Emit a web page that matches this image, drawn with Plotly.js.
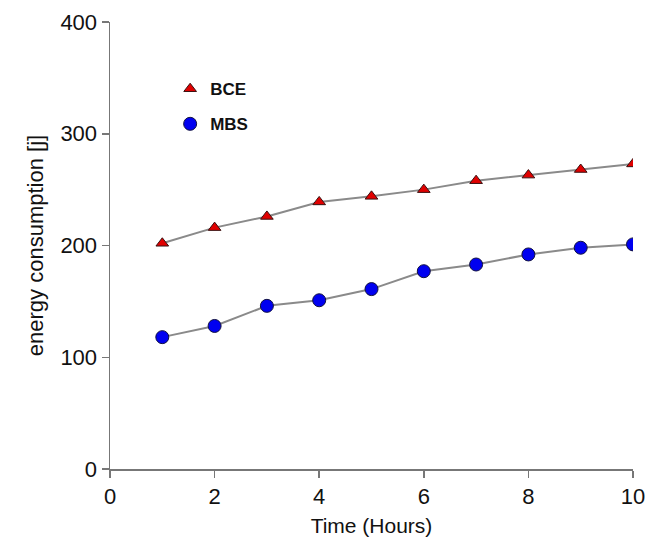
<!DOCTYPE html>
<html><head><meta charset="utf-8">
<script src="https://cdn.plot.ly/plotly-3.0.1.min.js"></script>
<style>html,body{margin:0;padding:0;background:#fff}#c{width:657px;height:545px}</style>
</head><body><div id="c"></div>
<script>
const hours = [1,2,3,4,5,6,7,8,9,10];
const bce = [202,216,226,239,244,250,258,263,268,273];
const mbs = [118,128,146,151,161,177,183,192,198,201];
const xTicks = [0,2,4,6,8,10];
const yTicks = [0,100,200,300,400];

const lineCol = '#8a8a8a';
const bceMarker = {symbol: 'triangle-up', size: 11, color: '#e00000', line: {color: '#3a1010', width: 1}};
const mbsMarker = {symbol: 'circle', size: 13, color: '#0000f0', line: {color: '#101040', width: 1}};
const traces = [
  {x: hours, y: bce, type: 'scatter', mode: 'lines', showlegend: false, line: {color: lineCol, width: 2}},
  {x: hours, y: mbs, type: 'scatter', mode: 'lines', showlegend: false, line: {color: lineCol, width: 2}},
  {x: hours, y: bce, name: 'BCE', type: 'scatter', mode: 'markers', legendgroup: 'a', marker: bceMarker},
  {x: hours, y: mbs, name: 'MBS', type: 'scatter', mode: 'markers', legendgroup: 'b', marker: mbsMarker}
];

const fam = 'Liberation Sans, Arial, sans-serif';
const tickFont = {family: fam, size: 22, color: '#111'};
const layout = {
  width: 657, height: 545,
  margin: {l: 110, r: 24, t: 22, b: 76},
  paper_bgcolor: '#fff', plot_bgcolor: '#fff',
  showlegend: true,
  legend: {x: 0.115, y: 0.89, xanchor: 'left', yanchor: 'top', bgcolor: 'rgba(0,0,0,0)',
           traceorder: 'grouped', tracegroupgap: 10,
           font: {family: fam, size: 17, weight: 'bold', color: '#111'}},
  xaxis: {range: [0, 10], tickvals: xTicks, ticktext: xTicks.map(String),
          showline: true, linecolor: '#777', linewidth: 1.5,
          ticks: 'outside', ticklen: 7, tickcolor: '#777', tickwidth: 1.5,
          showgrid: false, zeroline: false, tickfont: tickFont,
          title: {text: 'Time (Hours)', font: {family: fam, size: 21, color: '#111'}, standoff: 10}},
  yaxis: {range: [0, 400], tickvals: yTicks, ticktext: yTicks.map(String),
          showline: true, linecolor: '#777', linewidth: 1.5,
          ticks: 'outside', ticklen: 7, tickcolor: '#777', tickwidth: 1.5,
          showgrid: false, zeroline: false, tickfont: tickFont,
          title: {text: 'energy consumption [j]', font: {family: fam, size: 22, color: '#111'}, standoff: 10}}
};
Plotly.newPlot('c', traces, layout, {displayModeBar: false, staticPlot: true});
</script></body></html>
